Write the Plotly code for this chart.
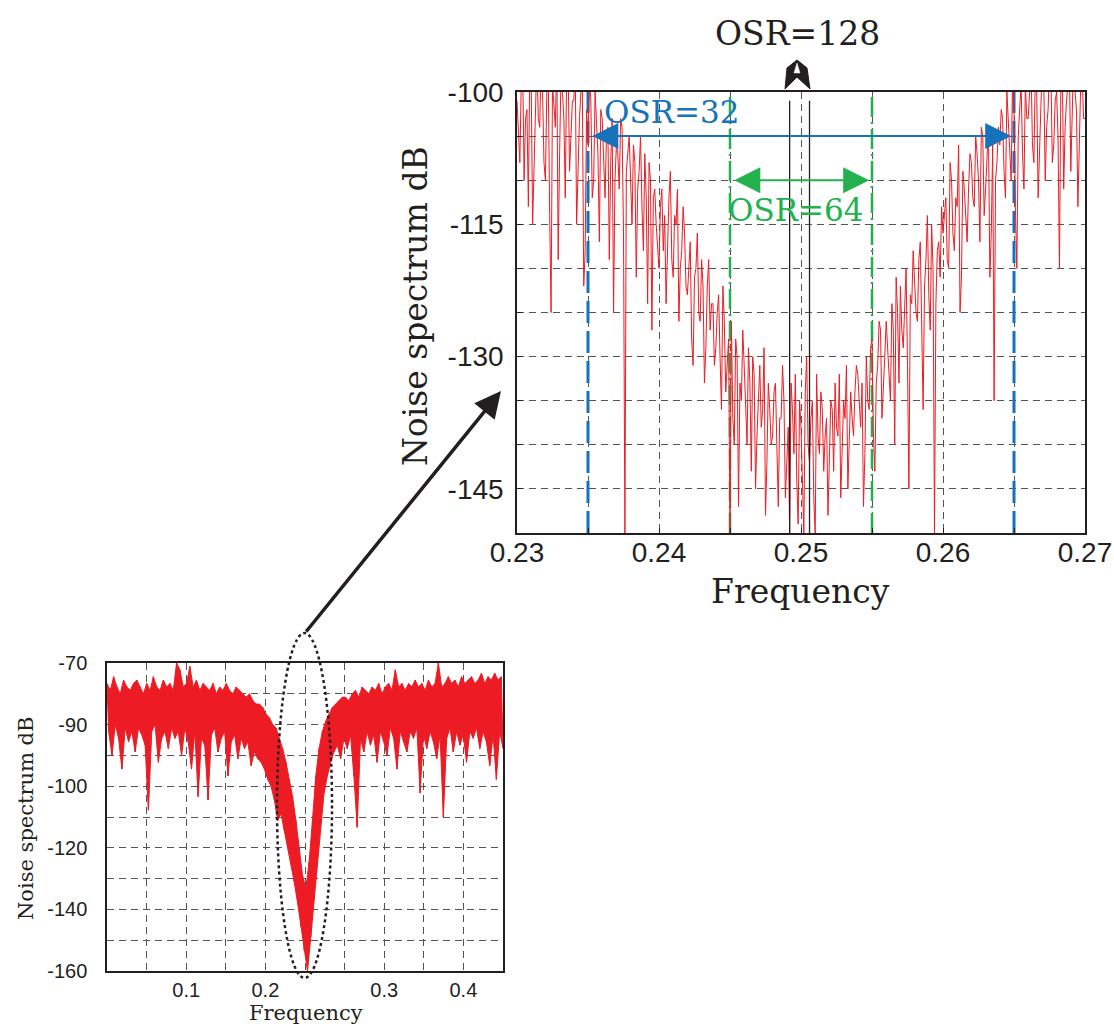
import numpy as np
import plotly.graph_objects as go

W, H = 1114, 1027


def px(x):
    return x / W


def py(y):
    return 1 - y / H


# ---------------- data: zoomed spectrum (0.23 .. 0.27) ----------------
# samples on the 0.0002 grid
zoom_start = 0.23
zoom_step = 0.0002
zoom_db = [
    -101, -108, -97, -103, -113, -99, -106, -96, -104, -100,
    -110, -98, -125, -102, -96, -107, -100, -112, -97, -105,
    -101, -115, -103, -99, -118, -106, -101, -110, -104, -117,
    -103, -112, -104, -108, -125, -106, -111, -104, -150, -107,
    -110, -106, -121, -109, -113, -107, -124, -110, -112, -115,
    -120, -111, -114, -117, -109, -121, -115, -126, -118, -116,
    -123, -117, -131, -120, -125, -119, -133, -122, -127, -124,
    -129, -123, -136, -126, -131, -150, -137, -128, -147, -135,
    -131, -140, -133, -130, -145, -134, -138, -129, -142, -136,
    -139, -133, -147, -137, -135, -141, -150, -136, -132, -149,
    -138, -150, -130, -142, -135, -150, -139, -134, -143, -137,
    -141, -136, -133, -139, -146, -135, -131, -140, -137, -134,
    -132, -138, -147, -130, -136, -128, -143, -131, -127, -134,
    -126, -131, -124, -140, -125, -122, -129, -120, -145, -124,
    -121, -126, -117, -136, -119, -123, -115, -150, -118, -121,
    -116, -112, -120, -110, -118, -113, -125, -109, -114, -111,
    -108, -113, -107, -117, -105, -111, -104, -116, -135, -108,
    -106, -103, -112, -104, -110, -102, -120, -101, -107, -99,
    -103, -97, -108, -100, -105, -96, -110, -102, -98, -106,
    -100, -120, -97, -104, -99, -109, -96, -102, -107, -98,
    -103,
]
# samples half-way between the grid points above
zoom_db_mid = [
    -104, -99, -110, -102, -97, -115, -100, -103, -96, -108,
    -100, -114, -99, -104, -119, -98, -103, -97, -109, -101,
    -97, -107, -100, -122, -102, -98, -112, -100, -107, -102,
    -109, -105, -119, -103, -110, -107, -103, -116, -109, -105,
    -115, -108, -111, -105, -118, -112, -108, -127, -111, -118,
    -113, -118, -124, -112, -119, -114, -111, -120, -113, -122,
    -119, -128, -121, -116, -126, -122, -129, -119, -124, -131,
    -125, -130, -122, -134, -128, -126, -140, -130, -133, -127,
    -136, -129, -143, -132, -139, -131, -136, -148, -133, -140,
    -134, -142, -137, -131, -146, -138, -133, -141, -144, -135,
    -145, -134, -140, -137, -146, -132, -141, -136, -139, -148,
    -135, -143, -138, -132, -141, -137, -145, -134, -139, -131,
    -136, -133, -141, -135, -129, -139, -133, -126, -137, -130,
    -129, -135, -127, -121, -133, -127, -124, -131, -123, -118,
    -125, -119, -128, -122, -114, -127, -120, -124, -117, -113,
    -114, -119, -108, -116, -112, -106, -121, -111, -117, -107,
    -112, -105, -110, -104, -114, -108, -121, -106, -110, -104,
    -102, -109, -100, -106, -98, -113, -105, -99, -111, -103,
    -100, -106, -98, -112, -101, -99, -104, -97, -108, -101,
    -105, -99, -111, -101, -97, -104, -100, -113, -99, -103,
]

# ---------------- data: full spectrum (0 .. 0.5), upper / lower envelope samples ----------------
full_upper = [
    -76, -78, -74, -77, -79, -75, -77, -78, -76, -75,
    -77, -79, -76, -78, -74, -77, -78, -75, -77, -76,
    -78, -70, -72, -77, -76, -71, -77, -75, -78, -76,
    -77, -78, -76, -79, -77, -78, -76, -78, -79, -77,
    -78, -79, -80, -79, -81, -82, -82, -83, -85, -86,
    -88, -89, -92, -95, -99, -104, -109, -116, -124, -132,
    -136, -128, -116, -103, -95, -90, -87, -85, -83, -82,
    -81, -80, -80, -81, -79, -78, -80, -77, -78, -79,
    -77, -78, -76, -79, -77, -76, -78, -72, -77, -76,
    -78, -76, -77, -75, -77, -76, -78, -75, -77, -76,
    -70, -77, -76, -74, -76, -75, -77, -74, -76, -75,
    -74, -76, -75, -73, -76, -74, -75, -73, -75, -74,
]
full_lower = [
    -90, -97, -88, -92, -101, -89, -93, -90, -96, -89,
    -91, -94, -113, -90, -88, -99, -92, -90, -95, -89,
    -92, -90, -97, -89, -93, -101, -90, -109, -92, -94,
    -110, -91, -89, -96, -92, -90, -103, -93, -91, -98,
    -92, -95, -93, -100, -96, -98, -99, -101, -104, -106,
    -110, -116, -114, -119, -124, -128, -134, -140, -147, -154,
    -160, -150, -139, -128, -117, -108, -103, -99, -96, -94,
    -98, -92, -95, -91, -103, -118, -92, -96, -90, -94,
    -91, -99, -90, -93, -97, -89, -92, -101, -90, -93,
    -96, -90, -92, -89, -108, -91, -95, -90, -93, -98,
    -91, -115, -92, -89, -96, -90, -94, -91, -99, -90,
    -92, -89, -95, -90, -93, -100, -91, -104, -90, -95,
]

# OSR band limits (frequency)
osr32_band = [0.235, 0.265]
osr64_band = [0.245, 0.255]
osr128_band = [0.2492, 0.2506]

# tick labels
zoom_xticks = [0.23, 0.24, 0.25, 0.26, 0.27]
zoom_yticks = [-100, -115, -130, -145]
full_xtick_pos = [0.1, 0.2, 0.35, 0.45]
full_xtick_text = ["0.1", "0.2", "0.3", "0.4"]
full_ytick_pos = [-70, -88, -106, -124, -142, -160]
full_ytick_text = ["-70", "-90", "-100", "-120", "-140", "-160"]

# ---------------- build ----------------
RED = "#ed1c24"
BLUE = "#1672ba"
GREEN = "#22b14c"
INK = "#231f20"
GRID = "#555555"

n_zoom = len(zoom_db) + len(zoom_db_mid)
zoom_x = np.round(zoom_start + (zoom_step / 2) * np.arange(n_zoom), 6)
zoom_y = np.empty(n_zoom)
zoom_y[0::2] = zoom_db
zoom_y[1::2] = zoom_db_mid

n_full = len(full_upper) + len(full_lower)
full_x = np.linspace(0, 0.5, n_full)
full_y = np.empty(n_full)
full_y[0::2] = full_upper
full_y[1::2] = full_lower

fig = go.Figure()

# band limit lines in zoomed plot
for b in osr32_band:
    fig.add_trace(go.Scatter(x=[b, b], y=[-150, -100], mode="lines",
                             line=dict(color=BLUE, width=3, dash="22px,8px"),
                             xaxis="x", yaxis="y", showlegend=False, hoverinfo="skip"))
for b in osr64_band:
    fig.add_trace(go.Scatter(x=[b, b], y=[-150, -100], mode="lines",
                             line=dict(color=GREEN, width=2.5, dash="20px,5px,2px,5px"),
                             xaxis="x", yaxis="y", showlegend=False, hoverinfo="skip"))

fig.add_trace(go.Scatter(x=zoom_x, y=zoom_y, mode="lines",
                         line=dict(color=RED, width=1),
                         xaxis="x", yaxis="y", showlegend=False))

for b in osr128_band:
    fig.add_trace(go.Scatter(x=[b, b], y=[-150, -101], mode="lines",
                             line=dict(color=INK, width=1.3),
                             xaxis="x", yaxis="y", showlegend=False, hoverinfo="skip"))

# full spectrum: filled band between envelopes, plus the raw zig-zag on top
fig.add_trace(go.Scatter(x=full_x[0::2], y=full_upper, mode="lines",
                         line=dict(color=RED, width=1),
                         xaxis="x2", yaxis="y2", showlegend=False, hoverinfo="skip"))
fig.add_trace(go.Scatter(x=full_x[1::2], y=full_lower, mode="lines",
                         line=dict(color=RED, width=1), fill="tonexty", fillcolor=RED,
                         xaxis="x2", yaxis="y2", showlegend=False, hoverinfo="skip"))
fig.add_trace(go.Scatter(x=full_x, y=full_y, mode="lines",
                         line=dict(color=RED, width=1),
                         xaxis="x2", yaxis="y2", showlegend=False))

gridstyle = dict(showgrid=True, gridcolor=GRID, gridwidth=1, griddash="7px,5px")
axline = dict(showline=True, mirror=True, linecolor=INK, linewidth=1.5, zeroline=False,
              automargin=False, layer="above traces")

fig.update_layout(
    width=W, height=H, autosize=False,
    margin=dict(l=0, r=0, t=0, b=0, pad=0),
    paper_bgcolor="white", plot_bgcolor="white",
    xaxis=dict(domain=[px(517), px(1085)], range=[0.23, 0.27], anchor="y",
               tickvals=zoom_xticks, ticktext=[f"{v:.2f}" for v in zoom_xticks],
               tickfont=dict(family="Liberation Sans", size=28, color=INK),
               ticks="inside", ticklen=5, tickcolor=INK, ticklabelstandoff=-6,
               minor=dict(dtick=0.005, tick0=0.23, ticks="inside", ticklen=5, tickcolor=INK, **gridstyle),
               **gridstyle, **axline),
    yaxis=dict(domain=[py(533), py(92)], range=[-150, -100], anchor="x",
               tickvals=zoom_yticks, ticktext=[str(v) for v in zoom_yticks],
               tickfont=dict(family="Liberation Sans", size=28, color=INK),
               ticks="inside", ticklen=5, tickcolor=INK, ticklabelstandoff=6,
               minor=dict(dtick=5, tick0=-150, ticks="inside", ticklen=5, tickcolor=INK, **gridstyle),
               **gridstyle, **axline),
    xaxis2=dict(domain=[px(107), px(503)], range=[0, 0.5], anchor="y2",
                tickvals=full_xtick_pos, ticktext=full_xtick_text,
                tickfont=dict(family="Liberation Sans", size=20, color=INK),
                ticks="", ticklabelstandoff=0,
                minor=dict(tickvals=[0.05 * i for i in range(1, 10)], ticks="", **gridstyle),
                **gridstyle, **axline),
    yaxis2=dict(domain=[py(971), py(663)], range=[-160, -70], anchor="x2",
                tickvals=full_ytick_pos, ticktext=full_ytick_text,
                tickfont=dict(family="Liberation Sans", size=20, color=INK),
                ticks="", ticklabelstandoff=14,
                minor=dict(tickvals=[-70 - 9 * i for i in range(11)], ticks="", **gridstyle),
                **gridstyle, **axline),
)

serif = "DejaVu Serif"
ann = []


def label(x, y, text, size, color=INK, angle=0):
    ann.append(dict(xref="paper", yref="paper", x=px(x), y=py(y), text=text,
                    xanchor="center", yanchor="middle", textangle=angle,
                    showarrow=False, font=dict(family=serif, size=size, color=color)))


# titles
label(415, 306, "Noise spectrum dB", 33, angle=-90)
label(800, 591, "Frequency", 33)
label(26, 818, "Noise spectrum dB", 21, angle=-90)
label(306, 1013, "Frequency", 21)
# OSR labels
label(797, 33, "OSR=128", 33)
ann.append(dict(xref="x", yref="y", x=0.2409, y=-102.3, text="OSR=32",
                xanchor="center", yanchor="middle",
                showarrow=False, font=dict(family=serif, size=31, color=BLUE)))
ann.append(dict(xref="x", yref="y", x=0.2496, y=-113.4, text="OSR=64",
                xanchor="center", yanchor="middle",
                showarrow=False, font=dict(family=serif, size=31, color=GREEN)))
# double arrows
ann.append(dict(xref="x", yref="y", axref="x", ayref="y",
                x=osr32_band[1] - 0.0002, y=-105, ax=osr32_band[0] + 0.0002, ay=-105,
                text="", showarrow=True, arrowside="end+start",
                arrowhead=2, startarrowhead=2, arrowsize=2.6, startarrowsize=2.6,
                arrowwidth=2, arrowcolor=BLUE))
ann.append(dict(xref="x", yref="y", axref="x", ayref="y",
                x=osr64_band[1] - 0.0002, y=-110, ax=osr64_band[0] + 0.0002, ay=-110,
                text="", showarrow=True, arrowside="end+start",
                arrowhead=2, startarrowhead=2, arrowsize=2.6, startarrowsize=2.6,
                arrowwidth=2, arrowcolor=GREEN))
# zoom arrow
ann.append(dict(xref="paper", yref="paper", x=px(501), y=py(391), ax=305 - 501, ay=633 - 391,
                text="", showarrow=True, arrowhead=2, arrowsize=1.5, arrowwidth=3.5,
                arrowcolor=INK, standoff=0))
fig.update_layout(annotations=ann)


def path(pts):
    s = "M " + " L ".join(f"{px(a):.5f},{py(b):.5f}" for a, b in pts) + " Z"
    return s


shapes = [
    # dotted ellipse around the notch
    dict(type="circle", xref="paper", yref="paper",
         x0=px(277), x1=px(332), y0=py(978), y1=py(633),
         line=dict(color=INK, width=2.5, dash="dot")),
    # OSR=128 marker
    dict(type="path", xref="paper", yref="paper",
         path=path([(785, 89), (787, 68), (797, 60), (807, 68), (810, 89), (797, 77)]),
         fillcolor=INK, line=dict(color=INK, width=1)),
    dict(type="path", xref="paper", yref="paper",
         path=path([(797, 63), (794, 73), (800, 73)]),
         fillcolor="white", line=dict(color="white", width=0.5)),
]
fig.update_layout(shapes=shapes)

# remove the page's default body margin so the figure fills the window exactly
fig.write_html("out.html",
               config={"displayModeBar": False},
               post_script="document.body.style.margin='0';document.body.style.overflow='hidden';")
